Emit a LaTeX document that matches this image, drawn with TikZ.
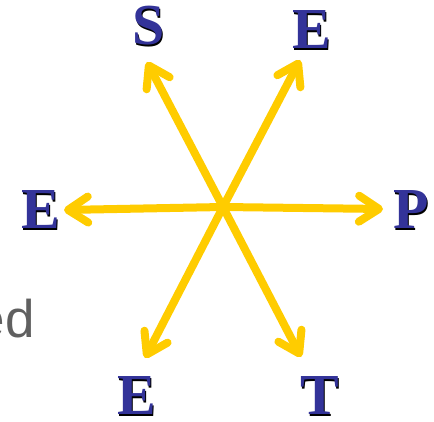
\documentclass[tikz,border=0pt]{standalone}
\usepackage{fontspec}
\setmainfont{Liberation Serif}
\newfontfamily\arialfont{Liberation Sans}
\usetikzlibrary{arrows.meta}
\definecolor{arrowyellow}{HTML}{FFCC00}
\definecolor{letterblue}{HTML}{333399}
\definecolor{textgray}{HTML}{606060}
\newcommand{\shadowletter}[3]{%
  \node[letter, text=black] (#1s) at ($(#2)+(0.8,-1.8)$) {#3};
  \node[letter] (#1) at (#2) {#3};}
\usetikzlibrary{calc}
\begin{document}
\begin{tikzpicture}[x=1pt,y=1pt,
  letter/.style={font=\fontsize{58}{60}\selectfont\bfseries, text=letterblue, inner sep=0pt},
  spoke/.style={draw=arrowyellow, line width=8pt, -{Straight Barb[length=20pt,width=26pt,round]}}]
\useasboundingbox (0,0) rectangle (434,421);
\node[font=\arialfont\fontsize{53}{55}\selectfont, text=textgray, anchor=base east, inner sep=0pt] (ed) at (35,84) {ed};
\coordinate (c) at (223,214);
\coordinate (tS) at (147,359);
\coordinate (tE1) at (300,361);
\coordinate (tE2) at (64,211);
\coordinate (tP) at (383,212);
\coordinate (tE3) at (145,63);
\coordinate (tT) at (301,64);
\foreach \t in {tS,tE1,tE2,tP,tE3,tT}{\draw[spoke] (c) -- (\t);}
\shadowletter{S}{149,395}{S}
\shadowletter{E1}{312,391}{E}
\shadowletter{E2}{41,211}{E}
\shadowletter{P}{411,211}{P}
\shadowletter{E3}{137,25}{E}
\shadowletter{T}{320,25}{T}
\end{tikzpicture}
\end{document}
